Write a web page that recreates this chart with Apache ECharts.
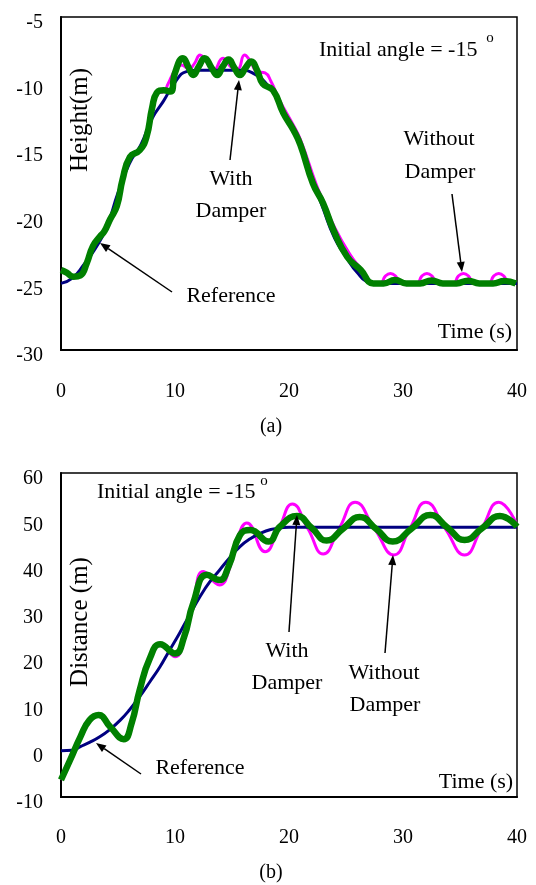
<!DOCTYPE html>
<html>
<head>
<meta charset="utf-8">
<script src="https://cdn.jsdelivr.net/npm/echarts@6/dist/echarts.min.js"></script>
<style>
html, body { margin: 0; padding: 0; background: #fff; }
#main { width: 536px; height: 885px; }
</style>
</head>
<body>
<div id="main"></div>
<script>
// (a) height vs time
var refTimeA = [0, 1, 2, 3, 4, 5, 6, 7, 8, 9, 10, 11, 12, 13, 14, 15, 16, 17, 18, 19, 20, 21, 22, 23, 24, 25, 26, 27, 28, 40];
var refHeight = [-25, -24.6, -23.6, -22.4, -20.8, -18.2, -16.0, -14.6, -12.6, -11.3, -9.9, -9.1, -9.0, -9.0, -9.0, -9.0, -9.0, -9.3, -10.0, -11.2, -12.9, -14.5, -17.0, -19.4, -21.6, -23.0, -24.2, -24.9, -25, -25];

var withTimeA = [0, 0.5, 1.1, 1.7, 2.25, 2.8, 3.4, 3.8, 4.3, 4.9, 5.4, 6.05, 6.9, 7.5, 8.0, 8.4, 9.0, 9.6, 10.0, 10.7,
  11.2, 11.6, 12.1, 12.6, 13.2, 13.7, 14.2, 14.7, 15.2, 15.7, 16.2, 16.7, 17.2, 17.7, 18.6, 19.5, 20.4, 21.0, 22.1, 23.0,
  23.9, 25.1, 26.3, 27.4, 28.3, 29.3, 30.3, 31.5, 32.5, 33.5, 34.7, 35.7, 36.7, 37.9, 38.9, 39.9];
var withHeight = [-24.0, -24.2, -24.5, -24.4, -23.5, -22.2, -21.5, -21.1, -20.2, -19.2, -17.2, -15.5, -15.0, -14.0, -11.8, -10.7, -10.5, -10.6, -9.2, -8.1,
  -8.8, -9.35, -8.7, -8.1, -8.8, -9.35, -8.7, -8.2, -8.8, -9.35, -8.8, -8.35, -9.0, -10.0, -10.5, -12.2, -13.5, -14.6, -17.5, -19.0,
  -21.0, -23.0, -24.0, -25.0, -25.0, -24.75, -25.0, -25.0, -24.78, -25.0, -25.0, -24.8, -25.0, -25.0, -24.82, -25.0];

var woTimeA = [0, 0.5, 1.1, 1.7, 2.25, 2.8, 3.4, 3.8, 4.3, 4.9, 5.4, 6.05, 6.9, 7.5, 8.0, 8.4, 9.0, 9.4, 10.0, 10.6,
  11.2, 11.7, 12.2, 12.7, 13.4, 14.2, 15.0, 15.5, 16.1, 16.6, 17.2, 17.9, 18.4, 19.2, 20.3, 21.0, 22.4, 23.0, 24.0, 25.4,
  26.3, 27.3, 28.0, 28.45, 28.9, 29.35, 29.8, 31.2, 31.65, 32.1, 32.55, 33.0, 34.4, 34.85, 35.3, 35.75, 36.2,
  37.5, 37.95, 38.4, 38.85, 39.3, 40];
var woHeight = [-24.0, -24.2, -24.5, -24.4, -23.5, -22.2, -21.5, -21.1, -20.2, -19.2, -17.2, -15.5, -15.0, -14.0, -11.8, -10.7, -10.6, -10.0, -9.0, -8.6,
  -8.9, -8.5, -7.85, -8.3, -9.0, -8.1, -8.8, -8.9, -7.85, -8.3, -9.1, -9.2, -9.8, -11.3, -13.0, -14.2, -17.6, -18.8, -20.8, -22.9,
  -23.9, -25.0, -25.0, -24.45, -24.25, -24.45, -25.0, -25.0, -24.45, -24.25, -24.45, -25.0, -25.0, -24.45, -24.25, -24.45, -25.0,
  -25.0, -24.45, -24.25, -24.45, -25.0, -25.0];

// (b) distance vs time
var refTimeB = [0, 1, 1.7, 2.5, 3.4, 4.3, 5.2, 6.0, 6.9, 7.8, 8.7, 9.5, 10.4, 11.3, 12.2, 13.0, 13.9, 14.8, 15.7, 16.6, 17.5, 18.4, 19.2, 20.0, 40];
var refDist = [0, 0.1, 0.9, 1.8, 3.0, 4.6, 6.6, 8.8, 11.7, 14.9, 18.2, 21.6, 25.4, 29.4, 33.3, 36.3, 39.0, 41.7, 44.1, 45.8, 47.0, 47.8, 48.1, 48.3, 48.3];

var withTimeB = [0, 0.8, 1.7, 2.5, 3.3, 4.3, 5.5, 6.2, 6.9, 7.8, 8.7, 10.0, 10.8, 11.6, 12.8, 13.9, 14.7, 15.7, 16.6, 18.2,
  19.2, 20.7, 22.0, 23.3, 24.75, 26.2, 27.65, 29.1, 30.75, 32.4, 33.9, 35.4, 36.95, 38.5, 40];
var withDist = [-6.3, -2.0, 3.0, 6.6, 7.7, 5.2, 2.5, 6.0, 13.1, 20.0, 23.0, 21.0, 24.6, 31.9, 38.0, 36.9, 39.8, 46.6, 47.7, 45.2,
  48.4, 50.7, 48.1, 45.4, 48.0, 50.5, 47.9, 45.2, 48.0, 50.9, 48.2, 45.5, 48.1, 50.7, 48.4];

var woTimeB = [0, 0.8, 1.7, 2.5, 3.3, 4.3, 5.5, 6.2, 6.9, 7.8, 8.7, 10.0, 10.8, 11.6, 12.5, 13.9, 14.8, 15.5, 16.3, 17.9,
  19.1, 20.3, 21.65, 23.0, 24.4, 25.8, 27.5, 29.2, 30.6, 32.0, 33.7, 35.4, 36.9, 38.4, 40];
var woDist = [-6.3, -2.0, 3.0, 6.6, 7.7, 5.2, 2.5, 6.0, 13.1, 20.0, 23.0, 20.3, 24.0, 32.0, 38.7, 35.8, 39.5, 46.0, 49.2, 43.0,
  48.0, 53.3, 48.0, 42.5, 48.0, 53.7, 48.0, 42.3, 48.0, 53.7, 48.0, 42.3, 48.0, 53.7, 48.8];

var serif = "'Liberation Serif', 'Times New Roman', serif";
var NAVY = '#000080', MAGENTA = '#FF00FF', GREEN = '#008000';

function pairs(ts, vs) {
  return ts.map(function (t, i) { return [t, vs[i]]; });
}

function arrow(x1, y1, x2, y2) {
  var ang = Math.atan2(y2 - y1, x2 - x1);
  var L = 10, W = 4;
  var bx = x2 - L * Math.cos(ang), by = y2 - L * Math.sin(ang);
  var px = -Math.sin(ang) * W, py = Math.cos(ang) * W;
  return [
    { type: 'line', z: 100, shape: { x1: x1, y1: y1, x2: bx, y2: by }, style: { stroke: '#000', lineWidth: 1.5 } },
    { type: 'polygon', z: 100, shape: { points: [[x2, y2], [bx + px, by + py], [bx - px, by - py]] }, style: { fill: '#000' } }
  ];
}

function label(text, x, y, size, align, rot) {
  return {
    type: 'text', z: 100, x: x, y: y, rotation: rot || 0,
    style: { text: text, font: size + 'px ' + serif, fill: '#000', align: align || 'center', verticalAlign: 'middle' }
  };
}

function xAxisOf(idx, margin) {
  return {
    type: 'value', gridIndex: idx, min: 0, max: 40, interval: 10,
    axisLine: { show: true, onZero: false, lineStyle: { color: '#000', width: 2 } },
    axisTick: { show: false },
    splitLine: { show: false },
    axisLabel: { color: '#000', fontSize: 20, fontFamily: serif, margin: margin }
  };
}

function yAxisOf(idx, min, max, step) {
  return {
    type: 'value', gridIndex: idx, min: min, max: max, interval: step,
    axisLine: { show: true, onZero: false, lineStyle: { color: '#000', width: 2 } },
    axisTick: { show: false },
    splitLine: { show: false },
    axisLabel: { color: '#000', fontSize: 20, fontFamily: serif, margin: 18, verticalAlign: 'top', lineHeight: 12 }
  };
}

function line(name, data, color, width, idx, z) {
  return {
    name: name, type: 'line', xAxisIndex: idx, yAxisIndex: idx,
    data: data, showSymbol: false, smooth: 0.5, z: z,
    lineStyle: { color: color, width: width }
  };
}

var chart = echarts.init(document.getElementById('main'));

var graphics = [].concat(
  label('Initial angle = -15', 319, 50, 22, 'left'),
  label('o', 490, 38, 15),
  label('Height(m)', 80, 120, 25, 'center', Math.PI / 2),
  label('With', 231, 179, 22),
  label('Damper', 231, 211, 22),
  arrow(230, 160, 239, 80),
  label('Without', 439, 139, 22),
  label('Damper', 440, 172, 22),
  arrow(452, 194, 462, 272),
  label('Reference', 231, 296, 22),
  arrow(172, 292, 100, 243),
  label('Time (s)', 475, 332, 22),
  label('(a)', 271, 427, 20),

  label('Initial angle = -15', 97, 492, 22, 'left'),
  label('o', 264, 481, 15),
  label('Distance (m)', 80, 622, 25, 'center', Math.PI / 2),
  label('With', 287, 651, 22),
  label('Damper', 287, 683, 22),
  arrow(289, 632, 297, 515),
  label('Without', 384, 673, 22),
  label('Damper', 385, 705, 22),
  arrow(385, 653, 393, 555),
  label('Reference', 200, 768, 22),
  arrow(141, 774, 96, 743),
  label('Time (s)', 476, 782, 22),
  label('(b)', 271, 873, 20)
);

var option = {
  animation: false,
  backgroundColor: '#fff',
  grid: [
    { left: 61, top: 17, width: 456, height: 333, show: true, borderColor: '#000', borderWidth: 1.5, backgroundColor: '#fff' },
    { left: 61, top: 473, width: 456, height: 324, show: true, borderColor: '#000', borderWidth: 1.5, backgroundColor: '#fff' }
  ],
  xAxis: [xAxisOf(0, 32), xAxisOf(1, 31)],
  yAxis: [yAxisOf(0, -30, -5, 5), yAxisOf(1, -10, 60, 10)],
  series: [
    line('Without Damper', pairs(woTimeA, woHeight), MAGENTA, 3, 0, 2),
    line('Reference', pairs(refTimeA, refHeight), NAVY, 3, 0, 3),
    line('With Damper', pairs(withTimeA, withHeight), GREEN, 6.5, 0, 4),
    line('Without Damper', pairs(woTimeB, woDist), MAGENTA, 3, 1, 2),
    line('Reference', pairs(refTimeB, refDist), NAVY, 3, 1, 3),
    line('With Damper', pairs(withTimeB, withDist), GREEN, 6.5, 1, 4)
  ],
  graphic: graphics
};

chart.setOption(option);
</script>
</body>
</html>
